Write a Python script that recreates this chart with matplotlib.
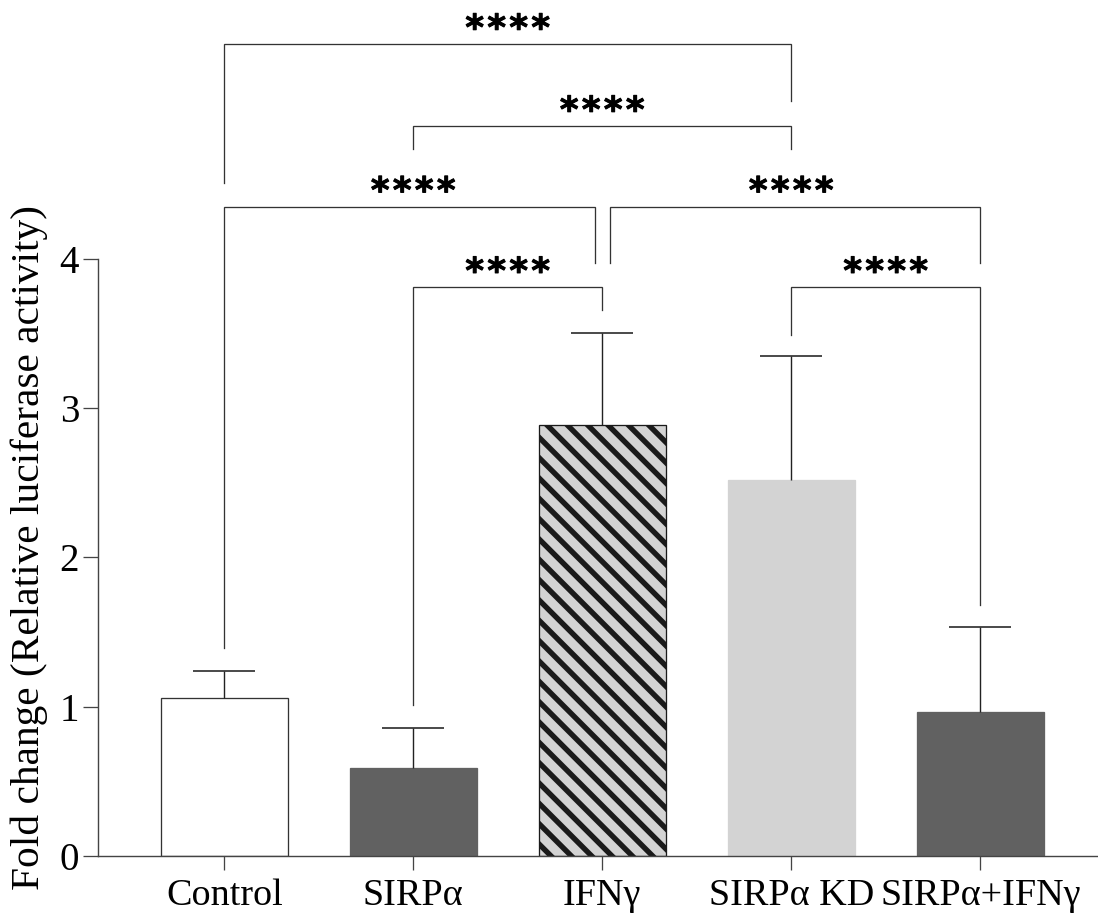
import numpy as np
import matplotlib
matplotlib.use("Agg")
import matplotlib.pyplot as plt
import matplotlib.patheffects as pe

# ---------------- data ----------------
categories = ['Control', 'SIRPα', 'IFNγ', 'SIRPα KD', 'SIRPα+IFNγ']
means = [1.06, 0.59, 2.89, 2.52, 0.965]
err_up = [0.18, 0.265, 0.615, 0.83, 0.565]
yticks = [0, 1, 2, 3, 4]

# significance brackets: (left group, right group)
bracket_pairs = [(0, 3), (1, 3), (0, 2), (2, 4), (1, 2), (3, 4)]
bracket_level = [5.44, 4.89, 4.35, 4.35, 3.81, 3.81]
bracket_left_end = [4.51, 4.74, 1.39, 3.97, 1.01, 3.49]
bracket_right_end = [5.06, 4.74, 3.97, 3.97, 3.66, 1.68]
bracket_shift = [(0, 0), (0, 0), (0, -0.04), (0.04, 0), (0, 0), (0, 0)]
bracket_text = ['****'] * 6

# ---------------- style ----------------
DPI = 122
PX = 72.0 / DPI  # points per pixel
plt.rcParams['font.family'] = ['Liberation Serif', 'DejaVu Serif']
plt.rcParams['hatch.linewidth'] = 5.4 * PX

fills = ['white', '#616161', '#d3d3d3', '#d3d3d3', '#616161']
edges = ['#333333', '#616161', '#1a1a1a', '#d3d3d3', '#616161']
hatches = [None, None, '\\\\', None, None]

fig = plt.figure(figsize=(1098 / DPI, 918 / DPI), dpi=DPI)
ax = fig.add_axes([98 / 1098, (918 - 855.7) / 918, 1 - 98 / 1098, (855.7 - 259) / 918])

x = np.arange(len(categories))
bars = ax.bar(x, means, width=0.672, color=fills, edgecolor=edges,
              linewidth=1.3 * PX, zorder=2)
for b, h in zip(bars, hatches):
    if h:
        b.set_hatch(h)

eb = ax.errorbar(x, means, yerr=[np.zeros(len(means)), err_up], fmt='none',
                 ecolor='#222222', elinewidth=1.4 * PX, capsize=31 * PX,
                 capthick=1.6 * PX, zorder=3)
# keep only the upper caps
for cl in eb[1]:
    if np.allclose(cl.get_ydata(), means):
        cl.set_visible(False)

ax.set_xlim(-0.668, 4.623)
ax.set_ylim(0, 4)
ax.set_yticks(yticks)
ax.set_yticklabels([str(t) for t in yticks])
ax.set_xticks(x)
ax.set_xticklabels(categories)

for s in ['top', 'right']:
    ax.spines[s].set_visible(False)
for s in ['left', 'bottom']:
    ax.spines[s].set_color('#444444')
    ax.spines[s].set_linewidth(1.4 * PX)

ax.tick_params(axis='y', length=15 * PX, width=1.3 * PX, color='#444444',
               labelsize=23, pad=4 * PX)
ax.tick_params(axis='x', length=14 * PX, width=1.3 * PX, color='#444444',
               labelsize=22.5, pad=9 * PX)

fig.text(29 / 1098, 1 - 548 / 918, 'Fold change (Relative luciferase activity)',
         rotation=90, ha='center', va='center', fontsize=24.4)

# brackets
STAR_STEP = 22  # px between star centres
for (i, j), lvl, le, re, (dl, dr), txt in zip(bracket_pairs, bracket_level,
                                               bracket_left_end, bracket_right_end,
                                               bracket_shift, bracket_text):
    x1 = x[i] + dl
    x2 = x[j] + dr
    ax.plot([x1, x1, x2, x2], [le, lvl, lvl, re], color='#333333',
            lw=1.3 * PX, clip_on=False, zorder=4, solid_joinstyle='miter')
    n = len(txt)
    for k, ch in enumerate(txt):
        dx = (k - (n - 1) / 2) * STAR_STEP
        ax.annotate(ch, xy=((x[i] + x[j]) / 2, lvl), xytext=(dx * PX, 4.5 * PX),
                    textcoords='offset points', ha='center', va='baseline',
                    fontsize=21, fontweight='bold', family='DejaVu Sans',
                    annotation_clip=False,
                    path_effects=[pe.withStroke(linewidth=1.0 * PX, foreground='black')])

fig.savefig('out.png', dpi=DPI)
